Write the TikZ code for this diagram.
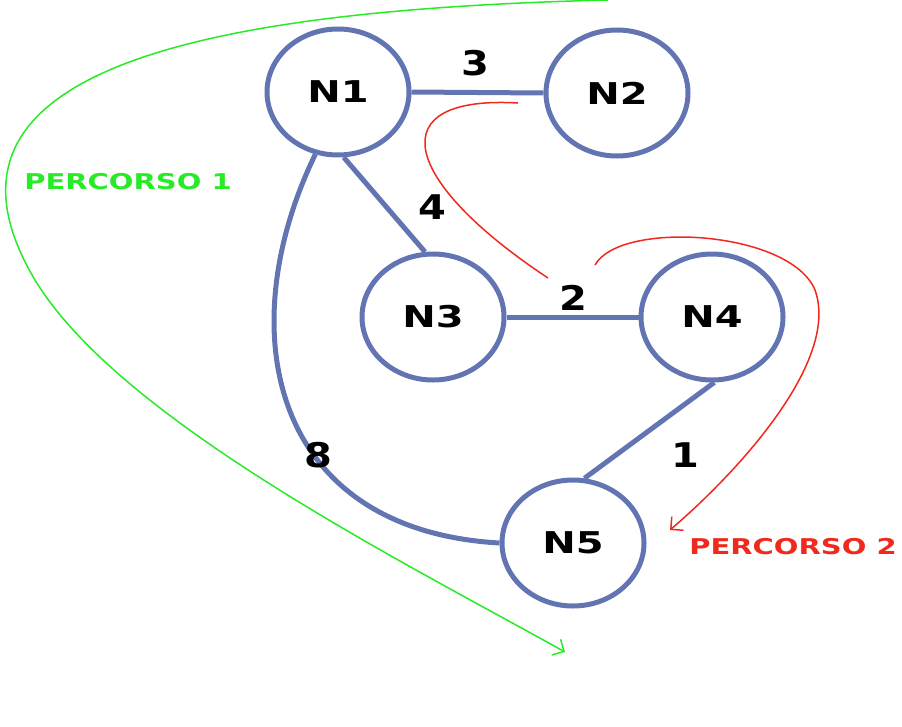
\documentclass[tikz,border=0pt]{standalone}
\usepackage{fontspec}
\setmainfont{DejaVu Sans}
\usetikzlibrary{shapes.geometric,arrows.meta}
\definecolor{eb}{RGB}{98,117,178}
\definecolor{gr}{RGB}{40,235,40}
\definecolor{rd}{RGB}{240,40,30}
\begin{document}
\begin{tikzpicture}[x=1pt,y=-1pt,
 nd/.style={ellipse,draw=eb,line width=5pt,minimum width=142pt,minimum height=126pt,font=\bfseries\fontsize{40}{40}\selectfont},
 ed/.style={draw=eb,line width=5pt},
 wt/.style={font=\bfseries\fontsize{40}{40}\selectfont},
 lb/.style={font=\bfseries\fontsize{29}{29}\selectfont}]
\useasboundingbox (0,0) rectangle (902,726);
\node[nd] (n1) at (338,92) {\scalebox{1}[0.75]{N1}};
\node[nd] (n2) at (617,93) {\scalebox{1}[0.75]{N2}};
\node[nd] (n3) at (433,317) {\scalebox{1}[0.75]{N3}};
\node[nd] (n4) at (712,317) {\scalebox{1}[0.75]{N4}};
\node[nd] (n5) at (573,543) {\scalebox{1}[0.75]{N5}};
\draw[ed] (n1.east) -- (n2.west);
\draw[ed] (n3.east) -- (n4.west);
\draw[ed] (n1.-85) -- (n3.97);
\draw[ed] (n4.-88) -- (n5.80);
\draw[ed] (n1.-110) .. controls (230,330) and (270,530) .. (n5.west);
\node[wt] at (475,63) {\scalebox{1}[0.85]{3}};
\node[wt] at (432,207) {\scalebox{1}[0.85]{4}};
\node[wt] at (573,298) {\scalebox{1}[0.85]{2}};
\node[wt] at (685,455) {\scalebox{1}[0.85]{1}};
\node[wt] at (318,455) {\scalebox{1}[0.85]{8}};
\coordinate (g0) at (608,0);
\coordinate (g1) at (565,652);
\draw[gr,line width=1.5pt,-{Straight Barb[length=9pt]}] (g0) .. controls (200,10) and (-90,70) .. (35,280) .. controls (120,420) and (400,560) .. (g1);
\coordinate (r0) at (518,103);
\coordinate (r1) at (548,278);
\draw[rd,line width=1.5pt] (r0) .. controls (380,95) and (400,180) .. (r1);
\coordinate (r2) at (595,265);
\coordinate (r3) at (670,530);
\draw[rd,line width=1.5pt,-{Straight Barb[length=9pt]}] (r2) .. controls (620,220) and (790,230) .. (815,290) .. controls (840,360) and (740,470) .. (r3);
\node[lb,text=gr] at (128,182) {\scalebox{1}[0.75]{PERCORSO 1}};
\node[lb,text=rd] at (793,547) {\scalebox{1}[0.75]{PERCORSO 2}};
\end{tikzpicture}
\end{document}
